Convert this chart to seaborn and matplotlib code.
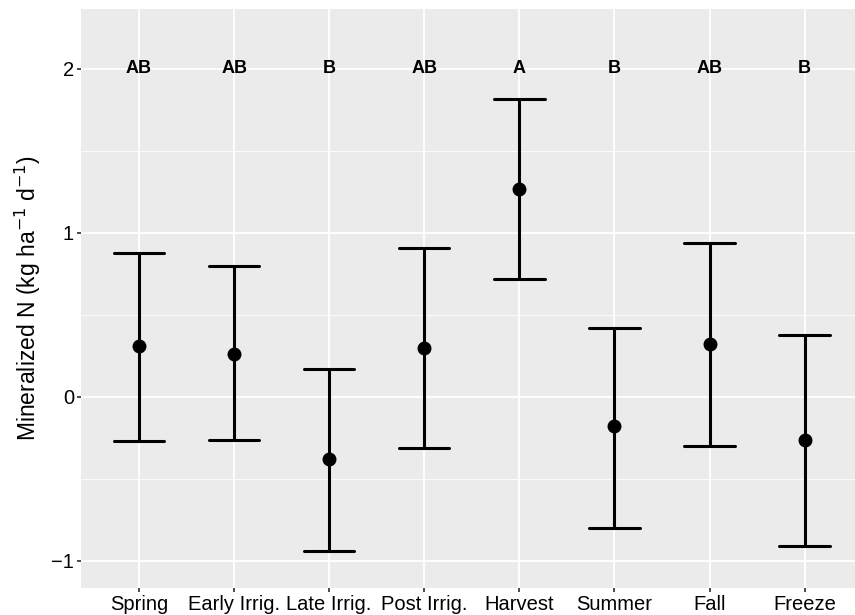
import numpy as np
import pandas as pd
import matplotlib.pyplot as plt
import seaborn as sns
from matplotlib.ticker import MultipleLocator

seasons = ["Spring", "Early Irrig.", "Late Irrig.", "Post Irrig.",
           "Harvest", "Summer", "Fall", "Freeze"]
mean_n = [0.31, 0.26, -0.38, 0.30, 1.27, -0.18, 0.32, -0.26]
lower_n = [-0.27, -0.26, -0.94, -0.31, 0.72, -0.80, -0.30, -0.91]
upper_n = [0.88, 0.80, 0.17, 0.91, 1.82, 0.42, 0.94, 0.38]
letters = ["AB", "AB", "B", "AB", "A", "B", "AB", "B"]

sns.set_theme(style="darkgrid", rc={
    "axes.facecolor": "#EBEBEB",
    "grid.color": "white",
    "xtick.bottom": True, "ytick.left": True,
    "xtick.major.size": 3, "ytick.major.size": 3,
    "xtick.color": "#333333", "ytick.color": "#333333",
})
plt.rcParams["font.family"] = ["Liberation Sans", "DejaVu Sans"]

# long table: lower / mean / upper per season, median + full range = point + bar
df = pd.DataFrame({
    "season": np.repeat(seasons, 3),
    "value": np.column_stack([lower_n, mean_n, upper_n]).ravel(),
})

fig = plt.figure(figsize=(8.55, 6.15), dpi=100)
ax = fig.add_axes([0.0947, 0.0444, 0.9053, 0.941])

sns.pointplot(data=df, x="season", y="value", order=seasons,
              estimator="median", errorbar=("pi", 100), capsize=0.53,
              color="black", linestyle="none", marker="o", markersize=8,
              err_kws={"linewidth": 2.2}, ax=ax)

for i, lab in enumerate(letters):
    ax.text(i, 2.0, lab, ha="center", va="center", fontsize=13,
            fontweight="bold", color="black")

ax.set_xlim(-0.61, 7.53)
ax.set_ylim(-1.163, 2.366)
ax.yaxis.set_major_locator(MultipleLocator(1))
ax.yaxis.set_minor_locator(MultipleLocator(0.5))
ax.grid(which="major", color="white", linewidth=1.3)
ax.grid(which="minor", axis="y", color="white", linewidth=0.6)
ax.tick_params(which="minor", left=False)
ax.tick_params(axis="both", labelsize=14.5, labelcolor="black", pad=2)
ax.set_xlabel("")
ax.set_ylabel("Mineralized N (kg ha$^{-1}$ d$^{-1}$)", fontsize=16.5,
              color="black", labelpad=6)
for s in ax.spines.values():
    s.set_visible(False)

fig.savefig("out.png", dpi=100)
